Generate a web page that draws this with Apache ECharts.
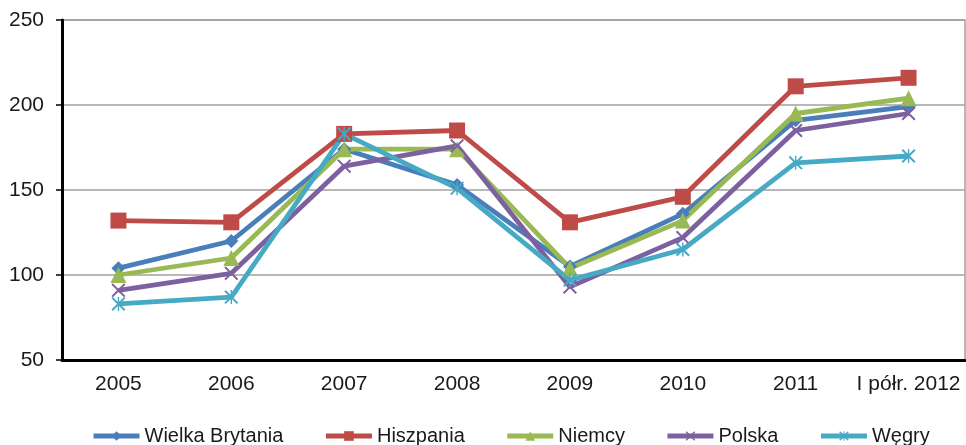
<!DOCTYPE html>
<html><head><meta charset="utf-8">
<script src="https://cdn.jsdelivr.net/npm/echarts@6/dist/echarts.min.js"></script>
<style>html,body{margin:0;padding:0;background:#fff}#c{width:966px;height:445px}</style>
</head><body><div id="c"></div>
<script>
const categories = ['2005','2006','2007','2008','2009','2010','2011','I półr. 2012'];
const wielkaBrytania = [104, 120, 174, 153, 105, 136, 191, 199];
const hiszpania = [132, 131, 183, 185, 131, 146, 211, 216];
const niemcy = [100, 110, 174, 174, 104, 132, 195, 204];
const polska = [91, 101, 164, 176, 93, 122, 185, 195];
const wegry = [83, 87, 183, 151, 97, 115, 166, 170];
const yTicks = [50, 100, 150, 200, 250];

const X_PATH = 'path://M0,1L1,0L5,4L9,0L10,1L6,5L10,9L9,10L5,6L1,10L0,9L4,5Z';
const AST_PATH = 'path://M0,1L1,0L5,4L9,0L10,1L6,5L10,9L9,10L5,6L1,10L0,9L4,5Z M4.5,0L5.5,0L5.5,10L4.5,10Z';
const FONT = 'Liberation Sans, Arial, sans-serif';

function mk(name, data, color, symbol, size) {
  return {
    name, type: 'line', data, symbol, symbolSize: size,
    lineStyle: { color, width: 4.8 },
    itemStyle: { color },
    emphasis: { disabled: true },
    animation: false
  };
}
const chart = echarts.init(document.getElementById('c'), null, { renderer: 'canvas' });
chart.setOption({
  animation: false,
  grid: { left: 62, right: 1, top: 20, bottom: 85, show: true, borderColor: '#a0a0a0', borderWidth: 1.5 },
  xAxis: {
    type: 'category', data: categories, boundaryGap: true,
    axisLine: { lineStyle: { color: '#000', width: 3 } },
    axisTick: { length: 6, lineStyle: { color: '#000', width: 1.5 } },
    axisLabel: { interval: 0, color: '#1a1a1a', fontFamily: FONT, fontSize: 21, margin: 14 }
  },
  yAxis: {
    type: 'value', min: yTicks[0], max: yTicks[yTicks.length - 1], interval: 50,
    axisLine: { show: true, lineStyle: { color: '#000', width: 3 } },
    axisTick: { show: true, length: 6, lineStyle: { color: '#000', width: 1.5 } },
    axisLabel: { color: '#1a1a1a', fontFamily: FONT, fontSize: 21, margin: 18 },
    splitLine: { lineStyle: { color: '#a0a0a0', width: 1.5 } }
  },
  legend: {
    top: 421, left: 86, itemWidth: 46, itemHeight: 12, itemGap: 40,
    lineStyle: { width: 5 },
    textStyle: { color: '#1a1a1a', fontFamily: FONT, fontSize: 20 },
    data: ['Wielka Brytania', 'Hiszpania', 'Niemcy', 'Polska', 'Węgry']
  },
  series: [
    mk('Wielka Brytania', wielkaBrytania, '#4a7ebb', 'diamond', 14),
    mk('Hiszpania', hiszpania, '#be4b48', 'rect', 16),
    mk('Niemcy', niemcy, '#98b954', 'triangle', 16),
    mk('Polska', polska, '#7d60a0', X_PATH, 14),
    mk('Węgry', wegry, '#46aac5', AST_PATH, 14)
  ]
});
</script></body></html>
